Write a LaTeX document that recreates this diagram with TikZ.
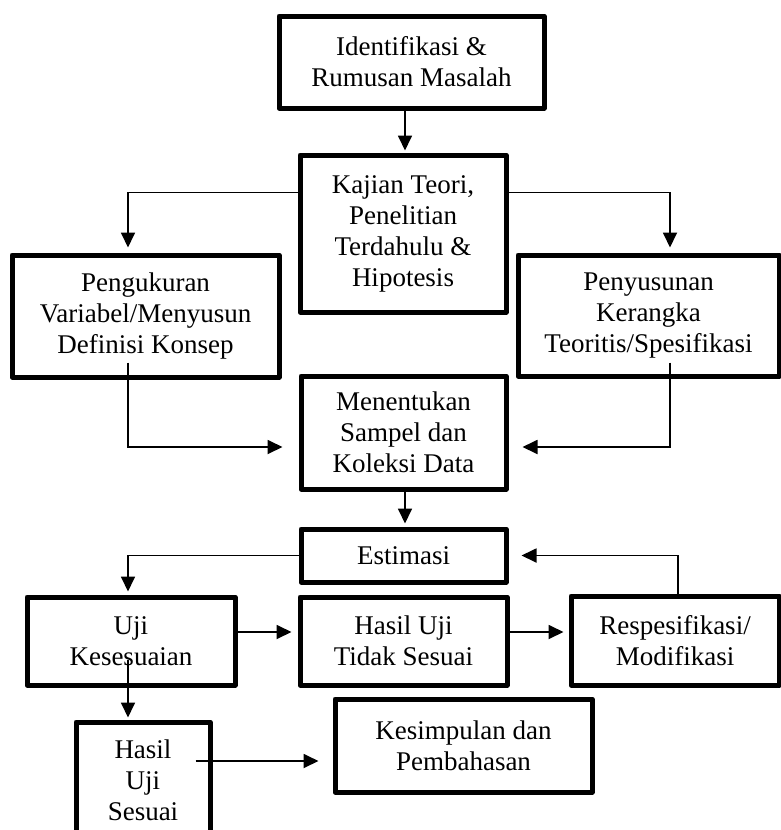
\documentclass[tikz,border=0pt]{standalone}
\usepackage{fontspec}
\setmainfont{Liberation Serif}
\usetikzlibrary{arrows.meta,calc}
\tikzset{
  box/.style={draw, line width=5pt, inner sep=0pt, align=center, line join=round,
    font=\fontsize{27}{31}\selectfont},
  arr/.style={line width=1.8pt, -{Triangle[length=15pt,width=14pt]}}
}
\begin{document}
\begin{tikzpicture}[x=1pt,y=-1pt]
\useasboundingbox (0,0) rectangle (781,830);
\node[box, minimum width=265pt, minimum height=92pt] (id) at (411.5,62) {Identifikasi \&\\Rumusan Masalah};
\node[box, minimum width=206pt, minimum height=157pt] (kt) at (403,233.5) {Kajian Teori,\\Penelitian\\Terdahulu \&\\Hipotesis};
\node[box, minimum width=267pt, minimum height=122pt] (pk) at (145.5,316) {Pengukuran\\Variabel/Menyusun\\Definisi Konsep};
\node[box, minimum width=261pt, minimum height=121pt] (ps) at (648.5,315.5) {Penyusunan\\Kerangka\\Teoritis/Spesifikasi};
\node[box, minimum width=205pt, minimum height=113pt] (mt) at (403.5,432.5) {Menentukan\\Sampel dan\\Koleksi Data};
\node[box, minimum width=205pt, minimum height=53pt] (es) at (403.5,555.5) {Estimasi};
\node[box, minimum width=208pt, minimum height=88pt] (uk) at (131,641) {Uji\\Kesesuaian};
\node[box, minimum width=207pt, minimum height=88pt] (hu) at (403.5,641) {Hasil Uji\\Tidak Sesuai};
\node[box, minimum width=208pt, minimum height=89pt] (rs) at (675,640.5) {Respesifikasi/\\Modifikasi};
\node[box, minimum width=134pt, minimum height=116pt] (hs) at (143,780) {Hasil\\Uji\\Sesuai};
\node[box, minimum width=257pt, minimum height=93pt] (ks) at (463.5,745.5) {Kesimpulan dan\\Pembahasan};
% connectors
\draw[arr, shorten >=2pt] ($(id.south)+(-6.5,0)$) -- ($(kt.north)+(2,0)$);
\draw[arr, shorten >=5pt] ($(kt.north west)+(0,40)$) -| ($(pk.north)+(-17.5,0)$);
\draw[arr, shorten >=5pt] ($(kt.north east)+(0,40)$) -| ($(ps.north)+(21.5,0)$);
\draw[arr, shorten >=16pt] ($(pk.south)+(-17.5,-17)$) |- ($(mt.west)+(0,14.5)$);
\draw[arr, shorten >=14pt] ($(ps.south)+(21.5,-16)$) |- ($(mt.east)+(0,14.5)$);
\draw[arr, shorten >=3pt] ($(mt.south)+(1.5,0)$) -- ($(es.north)+(1.5,0)$);
\draw[arr, shorten >=3pt] (es.west) -| ($(uk.north)+(-3,0)$);
\draw[arr, shorten >=6pt] ($(uk.east)+(0,-9)$) -- ($(hu.west)+(0,-9)$);
\draw[arr, shorten >=5pt] ($(hu.east)+(0,-9)$) -- ($(rs.west)+(0,-8.5)$);
\draw[arr, shorten >=13pt] ($(rs.north)+(3,0)$) |- (es.east);
\draw[arr, shorten >=2pt] ($(uk.south)+(-3,-28)$) -- ($(hs.north)+(-15,0)$);
\draw[arr, shorten >=14pt] ($(hs.east)+(-17,-19)$) -- ($(ks.west)+(0,15.5)$);
\end{tikzpicture}
\end{document}
